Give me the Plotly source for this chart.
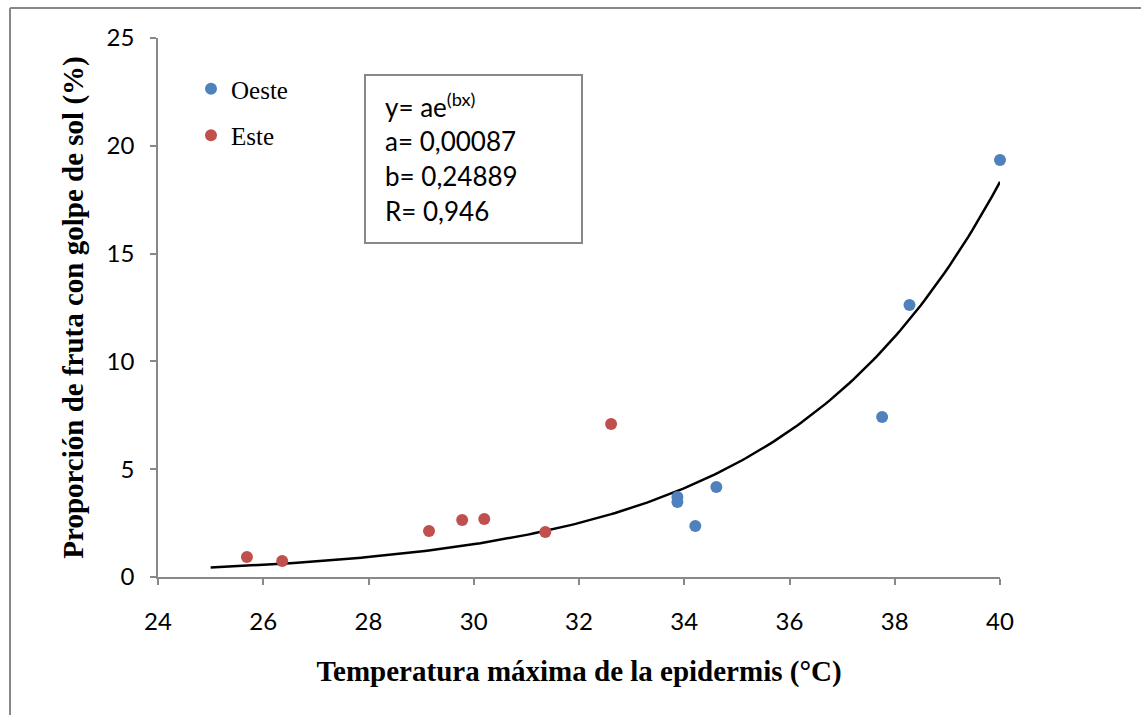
import numpy as np
import plotly.graph_objects as go

# Data
oeste_x = [33.87, 33.87, 34.21, 34.61, 37.76, 38.28, 40.0]
oeste_y = [3.71, 3.48, 2.37, 4.17, 7.42, 12.62, 19.34]
este_x = [25.69, 26.36, 29.15, 29.78, 30.20, 31.36, 32.61]
este_y = [0.93, 0.74, 2.13, 2.64, 2.69, 2.09, 7.10]

# Fitted exponential trendline y = a*e^(b*x), parameters given in the chart
fit_a = 0.00087
fit_b = 0.24889
fit_x = np.linspace(25, 40, 200)
fit_y = fit_a * np.exp(fit_b * fit_x)

x_ticks = [24, 26, 28, 30, 32, 34, 36, 38, 40]
y_ticks = [0, 5, 10, 15, 20, 25]

W, H = 1141, 715
L, R, T, B = 158, 141, 38, 138
pw, ph = W - L - R, H - T - B

def px(xp):
    return (xp - L) / pw

def py(yp):
    return (H - B - yp) / ph

SERIF = "Liberation Serif, Times New Roman, serif"
SANS = "Lato, Open Sans, sans-serif"

fig = go.Figure()
fig.add_trace(go.Scatter(x=fit_x, y=fit_y, mode="lines",
                         line=dict(color="black", width=2.5), showlegend=False,
                         hoverinfo="skip"))
fig.add_trace(go.Scatter(x=oeste_x, y=oeste_y, mode="markers", name="Oeste",
                         marker=dict(color="#4F81BD", size=12), legendgroup="o",
                         cliponaxis=False))
fig.add_trace(go.Scatter(x=este_x, y=este_y, mode="markers", name="Este",
                         marker=dict(color="#C0504D", size=12), legendgroup="e",
                         cliponaxis=False))

axis_common = dict(showgrid=False, zeroline=False, showline=True, linecolor="#888888",
                   linewidth=1.5, ticks="outside", tickcolor="#888888", ticklen=6,
                   tickwidth=1.5,
                   tickfont=dict(family=SANS, size=24, color="black"))

fig.update_xaxes(range=[24, 40], tickvals=x_ticks, ticklabelstandoff=16,
                 title=dict(text="Temperatura máxima de la epidermis (°C)",
                            font=dict(family=SERIF, size=29, color="black", weight="bold"),
                            standoff=27),
                 **axis_common)
fig.update_yaxes(range=[0, 25], tickvals=y_ticks, ticklabelstandoff=11,
                 title=dict(text="Proporción de fruta con golpe de sol (%)",
                            font=dict(family=SERIF, size=29, color="black", weight="bold"),
                            standoff=14),
                 **axis_common)

# Equation text box
fig.add_shape(type="rect", xref="paper", yref="paper",
              x0=px(365), x1=px(582), y0=py(243), y1=py(75),
              line=dict(color="#888888", width=2), fillcolor="white", layer="below")
eq_lines = ["y= ae<sup>(bx)</sup>", "a= 0,00087", "b= 0,24889", "R= 0,946"]
for i, txt in enumerate(eq_lines):
    fig.add_annotation(xref="paper", yref="paper", x=px(383), y=py(106 + 35 * i),
                       text=txt, showarrow=False, xanchor="left", yanchor="middle",
                       font=dict(family=SANS, size=26, color="black"))

# Outer chart border (left and top visible)
fig.add_shape(type="line", xref="paper", yref="paper",
              x0=px(10), x1=px(10), y0=py(720), y1=py(8),
              line=dict(color="#888888", width=2))
fig.add_shape(type="line", xref="paper", yref="paper",
              x0=px(10), x1=px(1150), y0=py(8), y1=py(8),
              line=dict(color="#888888", width=2))

fig.update_layout(
    width=W, height=H,
    margin=dict(l=L, r=R, t=T, b=B),
    paper_bgcolor="white", plot_bgcolor="white",
    legend=dict(x=px(191), y=py(66), xanchor="left", yanchor="top",
                font=dict(family=SERIF, size=25, color="black"),
                bgcolor="rgba(0,0,0,0)", tracegroupgap=11, itemwidth=30),
)

fig.write_html("out.html")
